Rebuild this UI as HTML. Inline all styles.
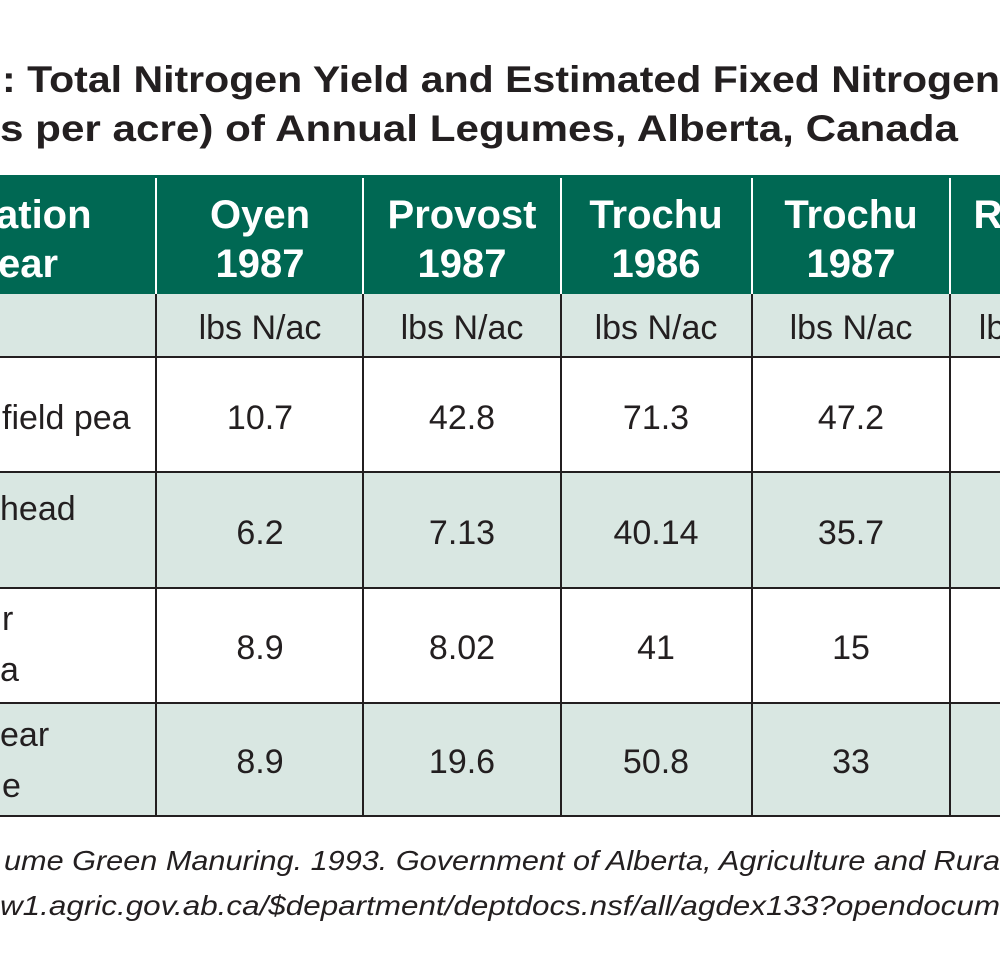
<!DOCTYPE html>
<html><head><style>
html,body{margin:0;padding:0;background:#fff;}
svg{display:block;}
</style></head><body>
<svg width="1000" height="979" xmlns="http://www.w3.org/2000/svg" font-family="Liberation Sans, sans-serif">
<rect width="1000" height="979" fill="#fff"/>
<g font-weight="bold" font-size="37" fill="#231f20">
<text x="2" y="92" textLength="998" lengthAdjust="spacingAndGlyphs">: Total Nitrogen Yield and Estimated Fixed Nitrogen</text>
<text x="0" y="141" textLength="958" lengthAdjust="spacingAndGlyphs">s per acre) of Annual Legumes, Alberta, Canada</text>
</g>
<rect x="0" y="175" width="1000" height="119" fill="#006853"/>
<rect x="0" y="294" width="1000" height="63" fill="#d9e7e2"/>
<rect x="0" y="472" width="1000" height="116" fill="#d9e7e2"/>
<rect x="0" y="703" width="1000" height="113" fill="#d9e7e2"/>
<g stroke="#fff" stroke-width="2">
<line x1="156" y1="178" x2="156" y2="294"/><line x1="363" y1="178" x2="363" y2="294"/>
<line x1="561" y1="178" x2="561" y2="294"/><line x1="752" y1="178" x2="752" y2="294"/>
<line x1="950" y1="178" x2="950" y2="294"/>
</g>
<g stroke="#231f20" stroke-width="2">
<line x1="0" y1="357" x2="1000" y2="357"/><line x1="0" y1="472" x2="1000" y2="472"/>
<line x1="0" y1="588" x2="1000" y2="588"/><line x1="0" y1="703" x2="1000" y2="703"/>
<line x1="0" y1="816" x2="1000" y2="816"/>
<line x1="156" y1="294" x2="156" y2="816"/><line x1="363" y1="294" x2="363" y2="816"/>
<line x1="561" y1="294" x2="561" y2="816"/><line x1="752" y1="294" x2="752" y2="816"/>
<line x1="950" y1="294" x2="950" y2="816"/>
</g>
<g font-weight="bold" font-size="40" fill="#fff" text-anchor="middle">
<text x="260" y="228">Oyen</text><text x="260" y="277">1987</text>
<text x="462" y="228">Provost</text><text x="462" y="277">1987</text>
<text x="656" y="228">Trochu</text><text x="656" y="277">1986</text>
<text x="851" y="228">Trochu</text><text x="851" y="277">1987</text>
<text x="988" y="228">R</text>
</g>
<g font-weight="bold" font-size="40" fill="#fff">
<text x="-4" y="228">ation</text><text x="-2" y="277">ear</text>
</g>
<g font-size="34" fill="#231f20" text-anchor="middle">
<text x="260" y="339">lbs N/ac</text><text x="462" y="339">lbs N/ac</text>
<text x="656" y="339">lbs N/ac</text><text x="851" y="339">lbs N/ac</text>
<text x="992" y="339">lb</text>
<text x="260" y="429">10.7</text><text x="462" y="429">42.8</text><text x="656" y="429">71.3</text><text x="851" y="429">47.2</text>
<text x="260" y="544">6.2</text><text x="462" y="544">7.13</text><text x="656" y="544">40.14</text><text x="851" y="544">35.7</text>
<text x="260" y="659">8.9</text><text x="462" y="659">8.02</text><text x="656" y="659">41</text><text x="851" y="659">15</text>
<text x="260" y="773">8.9</text><text x="462" y="773">19.6</text><text x="656" y="773">50.8</text><text x="851" y="773">33</text>
</g>
<g font-size="34" fill="#231f20">
<text x="2" y="429">field pea</text>
<text x="0" y="520">head</text>
<text x="2" y="630">r</text><text x="0" y="681">a</text>
<text x="0" y="746">ear</text><text x="2" y="797">e</text>
</g>
<g font-size="28" font-style="italic" fill="#231f20">
<text x="4" y="870" textLength="996" lengthAdjust="spacingAndGlyphs">ume Green Manuring. 1993. Government of Alberta, Agriculture and Rura</text>
<text x="0" y="915" textLength="1000" lengthAdjust="spacingAndGlyphs">w1.agric.gov.ab.ca/$department/deptdocs.nsf/all/agdex133?opendocum</text>
</g>
</svg>
</body></html>
